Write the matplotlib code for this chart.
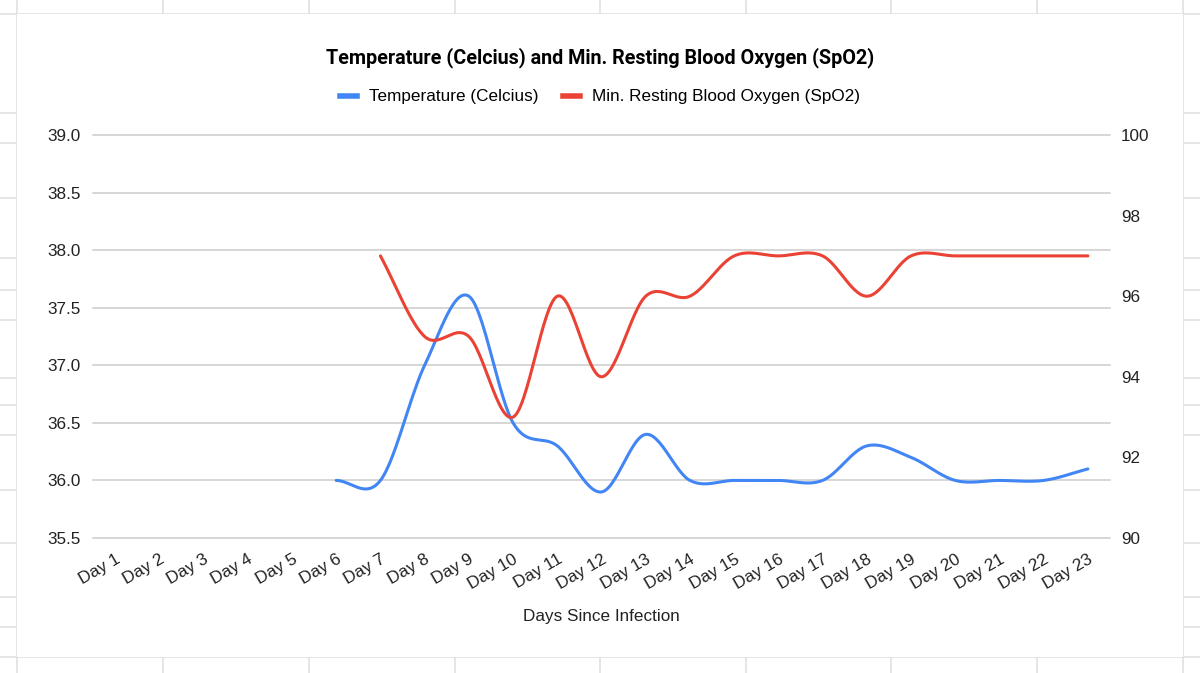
import numpy as np
import matplotlib
matplotlib.use('Agg')
import matplotlib.pyplot as plt
from matplotlib.lines import Line2D
from matplotlib.patches import Rectangle

# ── data ─────────────────────────────────────────────────────────────
days = [f"Day {i}" for i in range(1, 24)]
temperature = [None, None, None, None, None,
               36.0, 36.0, 37.0, 37.6, 36.5, 36.3, 35.9, 36.4, 36.0,
               36.0, 36.0, 36.0, 36.3, 36.2, 36.0, 36.0, 36.0, 36.1]
spo2 = [None, None, None, None, None, None,
        97, 95, 95, 93, 96, 94, 96, 96, 97, 97, 97, 96, 97, 97, 97, 97, 97]

temp_ticks = [35.5, 36.0, 36.5, 37.0, 37.5, 38.0, 38.5, 39.0]
spo2_ticks = [90, 92, 94, 96, 98, 100]

BLUE = "#4285F4"
RED = "#EA4335"
W, H = 1200, 673
FS = 12.3


def smooth(values, n=30):
    """Catmull-Rom curve through the known points (like the Sheets 'smooth' option)."""
    pts = [(i, v) for i, v in enumerate(values) if v is not None]
    x = np.array([p[0] for p in pts], float)
    y = np.array([p[1] for p in pts], float)
    m = np.zeros_like(y)
    m[1:-1] = (y[2:] - y[:-2]) / 2
    m[0] = y[1] - y[0]
    m[-1] = y[-1] - y[-2]
    xs, ys = [], []
    t = np.linspace(0, 1, n)
    h00 = 2 * t**3 - 3 * t**2 + 1
    h10 = t**3 - 2 * t**2 + t
    h01 = -2 * t**3 + 3 * t**2
    h11 = t**3 - t**2
    for i in range(len(x) - 1):
        xs.append(x[i] + t * (x[i + 1] - x[i]))
        ys.append(h00 * y[i] + h10 * m[i] + h01 * y[i + 1] + h11 * m[i + 1])
    return np.concatenate(xs), np.concatenate(ys)


fig = plt.figure(figsize=(W / 100, H / 100), dpi=100)
fig.patch.set_facecolor("white")

# spreadsheet cells behind the chart
grid_kw = dict(color="#e0e0e0", lw=1.2, zorder=-3)
for gx in [17, 163, 309, 455, 600, 746, 891, 1037, 1183]:
    fig.add_artist(Line2D([gx / W, gx / W], [0, 1], transform=fig.transFigure, **grid_kw))
for gy in [14, 113, 143, 198, 258, 290, 320, 378, 405, 435, 490, 543, 597, 627, 657]:
    fig.add_artist(Line2D([0, 1], [1 - gy / H, 1 - gy / H], transform=fig.transFigure, **grid_kw))
fig.add_artist(Rectangle((17 / W, 1 - 657 / H), (1183 - 17) / W, (657 - 14) / H,
                         transform=fig.transFigure, facecolor="white",
                         edgecolor="none", zorder=-2))

ax = fig.add_axes([93 / W, 1 - 538 / H, (1110 - 93) / W, (538 - 135) / H])
ax.set_facecolor("none")
ax2 = ax.twinx()
ax2.set_facecolor("none")

x_t, y_t = smooth(temperature)
ax.plot(x_t, y_t, color=BLUE, lw=2.2, solid_capstyle="round", zorder=3)
x_s, y_s = smooth(spo2)
ax2.plot(x_s, y_s, color=RED, lw=2.2, solid_capstyle="round", zorder=3)

ax.set_xlim(-0.5, len(days) - 0.5)
ax.set_ylim(35.5, 39.0)
ax.set_yticks(temp_ticks)
ax.set_yticklabels([f"{v:.1f}" for v in temp_ticks])
ax2.set_ylim(90, 100)
ax2.set_yticks(spo2_ticks)

# gridlines on the left scale, drawn at figure level so the edge ones are not clipped
for v in temp_ticks:
    fig.add_artist(Line2D([0, 1], [v, v], transform=ax.get_yaxis_transform(),
                          color="#cccccc", lw=1.1, zorder=-1))

ax.set_xticks(range(len(days)))
ax.set_xticklabels(days, rotation=30, ha="right", rotation_mode="anchor")

for a in (ax, ax2):
    for s in a.spines.values():
        s.set_visible(False)
    a.tick_params(length=0, labelsize=FS, labelcolor="#222222")
    for lab in a.get_yticklabels() + a.get_xticklabels():
        lab.set_family("Liberation Sans")
ax.tick_params(axis="y", pad=9)
ax.tick_params(axis="x", pad=10)
ax2.tick_params(axis="y", pad=8)

ax.set_xlabel("Days Since Infection", family="Liberation Sans", fontsize=FS,
              color="#222222", labelpad=12)

fig.text(600 / W, 1 - 58 / H,
         "Temperature (Celcius) and Min. Resting Blood Oxygen (SpO2)",
         ha="center", va="center", fontsize=14.2, fontweight="bold",
         family="Roboto", color="#000000")

handles = [Line2D([], [], color=BLUE, lw=4), Line2D([], [], color=RED, lw=4)]
fig.legend(handles, ["Temperature (Celcius)", "Min. Resting Blood Oxygen (SpO2)"],
           loc="center", bbox_to_anchor=(600 / W, 1 - 97 / H), ncol=2,
           frameon=False, handlelength=1.0, handletextpad=0.7, columnspacing=1.45,
           prop={"family": "Liberation Sans", "size": FS})

fig.savefig("out.png", dpi=100)
